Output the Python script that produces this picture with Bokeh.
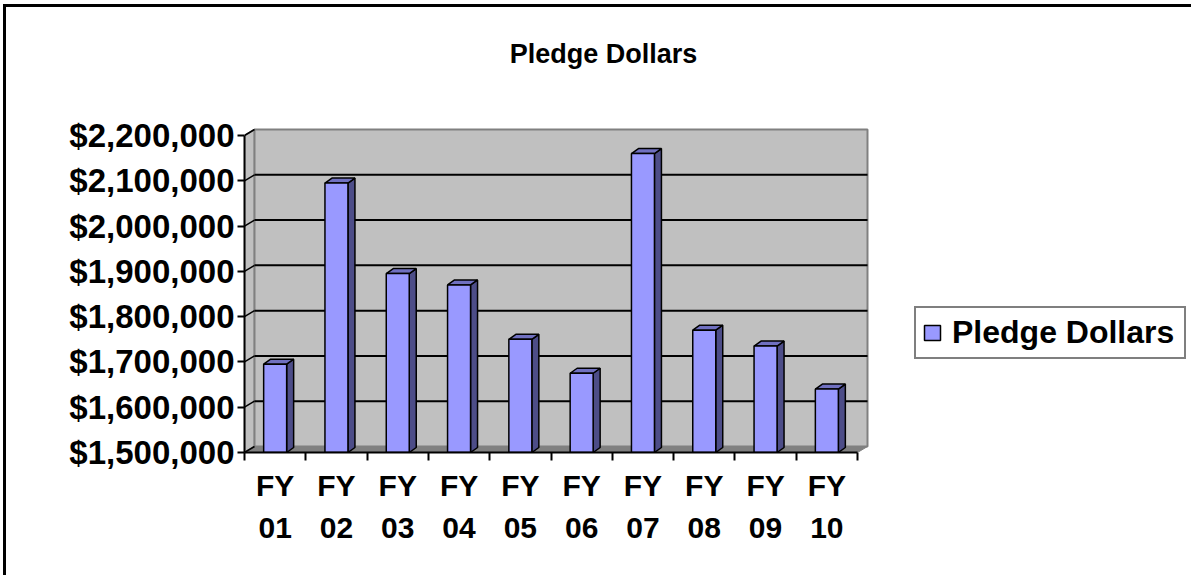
from bokeh.plotting import figure
from bokeh.models import FixedTicker, NumeralTickFormatter, Legend, LegendItem, Label, Range1d
from bokeh.embed import file_html
from bokeh.resources import INLINE

# ---- data ----
categories = ["FY 01", "FY 02", "FY 03", "FY 04", "FY 05",
              "FY 06", "FY 07", "FY 08", "FY 09", "FY 10"]
pledge_dollars = [1695000, 2095000, 1895000, 1870000, 1750000,
                  1675000, 2160000, 1770000, 1735000, 1640000]
y_ticks = [1500000, 1600000, 1700000, 1800000, 1900000, 2000000, 2100000, 2200000]
series_name = "Pledge Dollars"
title_text = "Pledge Dollars"

# ---- layout / style constants ----
W, H = 1188, 571
LEFT, BOTTOM = 238, 126            # frame left / bottom borders (px)
AXIS_H_PX = 317                     # px between first and last y tick
CAT_PX = 61.3                       # px per category
n = len(categories)
Y0, Y1 = y_ticks[0], y_ticks[-1]
Y_PER_PX = (Y1 - Y0) / AXIS_H_PX
FRAME_W, FRAME_H = W - LEFT, H - BOTTOM
DX, DY = 10 / CAT_PX, 6 * Y_PER_PX      # wall depth offset
BAR_W = 0.375
BDX, BDY = 7 / CAT_PX, 5 * Y_PER_PX     # bar depth offset
FONT = "Liberation Sans"

p = figure(width=W, height=H, output_backend="svg", toolbar_location=None,
           x_range=Range1d(0, FRAME_W / CAT_PX),
           y_range=Range1d(Y0, Y0 + FRAME_H * Y_PER_PX),
           min_border_left=LEFT, min_border_right=0,
           min_border_top=0, min_border_bottom=BOTTOM)
p.xgrid.visible = False
p.ygrid.visible = False
p.outline_line_color = None
p.background_fill_color = "white"
p.border_fill_color = "white"
p.styles = {"border-left": "3px solid black", "border-top": "3px solid black",
            "margin-left": "3px", "margin-top": "4px"}

# walls and floor
p.patch(x=[0, DX, DX, 0], y=[Y0, Y0 + DY, Y1 + DY, Y1],
        fill_color="#C0C0C0", line_color="#808080", line_width=1.5)
p.quad(left=DX, right=n + DX, bottom=Y0 + DY, top=Y1 + DY,
       fill_color="#C0C0C0", line_color="#808080", line_width=2)
p.patch(x=[0, n, n + DX, DX], y=[Y0, Y0, Y0 + DY, Y0 + DY],
        fill_color="#808080", line_color="#808080", line_width=1)

# gridlines
inner = y_ticks[1:-1]
p.segment(x0=[DX] * len(inner), y0=[v + DY for v in inner],
          x1=[n + DX] * len(inner), y1=[v + DY for v in inner],
          line_color="black", line_width=2)
p.segment(x0=[0] * len(y_ticks), y0=y_ticks,
          x1=[DX] * len(y_ticks), y1=[v + DY for v in y_ticks],
          line_color="black", line_width=1.5)

# bars
xc = [i + 0.5 for i in range(n)]
xl = [c - BAR_W / 2 for c in xc]
xr = [c + BAR_W / 2 for c in xc]
side_xs = [[r, r + BDX, r + BDX, r] for r in xr]
side_ys = [[Y0, Y0 + BDY, v + BDY, v] for v in pledge_dollars]
top_xs = [[l, r, r + BDX, l + BDX] for l, r in zip(xl, xr)]
top_ys = [[v, v, v + BDY, v + BDY] for v in pledge_dollars]
p.patches(xs=side_xs, ys=side_ys, fill_color="#4D4D88", line_color="black", line_width=1.5)
p.patches(xs=top_xs, ys=top_ys, fill_color="#7070C0", line_color="black", line_width=1.5)
front = p.vbar(x=xc, top=pledge_dollars, bottom=Y0, width=BAR_W,
               fill_color="#9999FF", line_color="black", line_width=1.5)

# axes
yax = p.yaxis[0]
yax.ticker = FixedTicker(ticks=y_ticks)
yax.formatter = NumeralTickFormatter(format="$0,0")
yax.bounds = (Y0, Y1)
yax.axis_line_width = 2
yax.major_tick_line_width = 2
yax.major_tick_out = 7
yax.major_tick_in = 0
yax.minor_tick_line_color = None
yax.major_label_standoff = 3
yax.major_label_text_font = FONT
yax.major_label_text_font_style = "bold"
yax.major_label_text_font_size = "33px"
yax.major_label_text_color = "black"

xax = p.xaxis[0]
xax.ticker = FixedTicker(ticks=xc, minor_ticks=list(range(n + 1)))
xax.major_label_overrides = {c: lab.replace(" ", "\n") for c, lab in zip(xc, categories)}
xax.bounds = (0, n)
xax.axis_line_width = 2
xax.major_tick_out = 0
xax.major_tick_in = 0
xax.minor_tick_out = 8
xax.minor_tick_in = 0
xax.minor_tick_line_width = 2
xax.minor_tick_line_color = "black"
xax.major_label_standoff = 8
xax.major_label_text_font = FONT
xax.major_label_text_font_style = "bold"
xax.major_label_text_font_size = "30px"
xax.major_label_text_line_height = 1.3
xax.major_label_text_color = "black"

# title (screen px relative to the frame's bottom-left)
p.add_layout(Label(x=359, y=399, x_units="screen", y_units="screen", text=title_text,
                   text_align="center", text_baseline="middle", text_font=FONT,
                   text_font_style="bold", text_font_size="27px", text_color="black"))

# legend
legend = Legend(items=[LegendItem(label=series_name, renderers=[front])],
                location=(670, 93), orientation="vertical",
                border_line_color="black", border_line_width=2,
                background_fill_color="white", background_fill_alpha=1,
                label_text_font=FONT, label_text_font_style="bold",
                label_text_font_size="32px", label_text_color="black",
                glyph_width=20, glyph_height=19, label_standoff=10,
                label_width=226, padding=6, margin=0, spacing=0)
p.add_layout(legend)

open("out.html", "w").write(file_html(p, INLINE))
